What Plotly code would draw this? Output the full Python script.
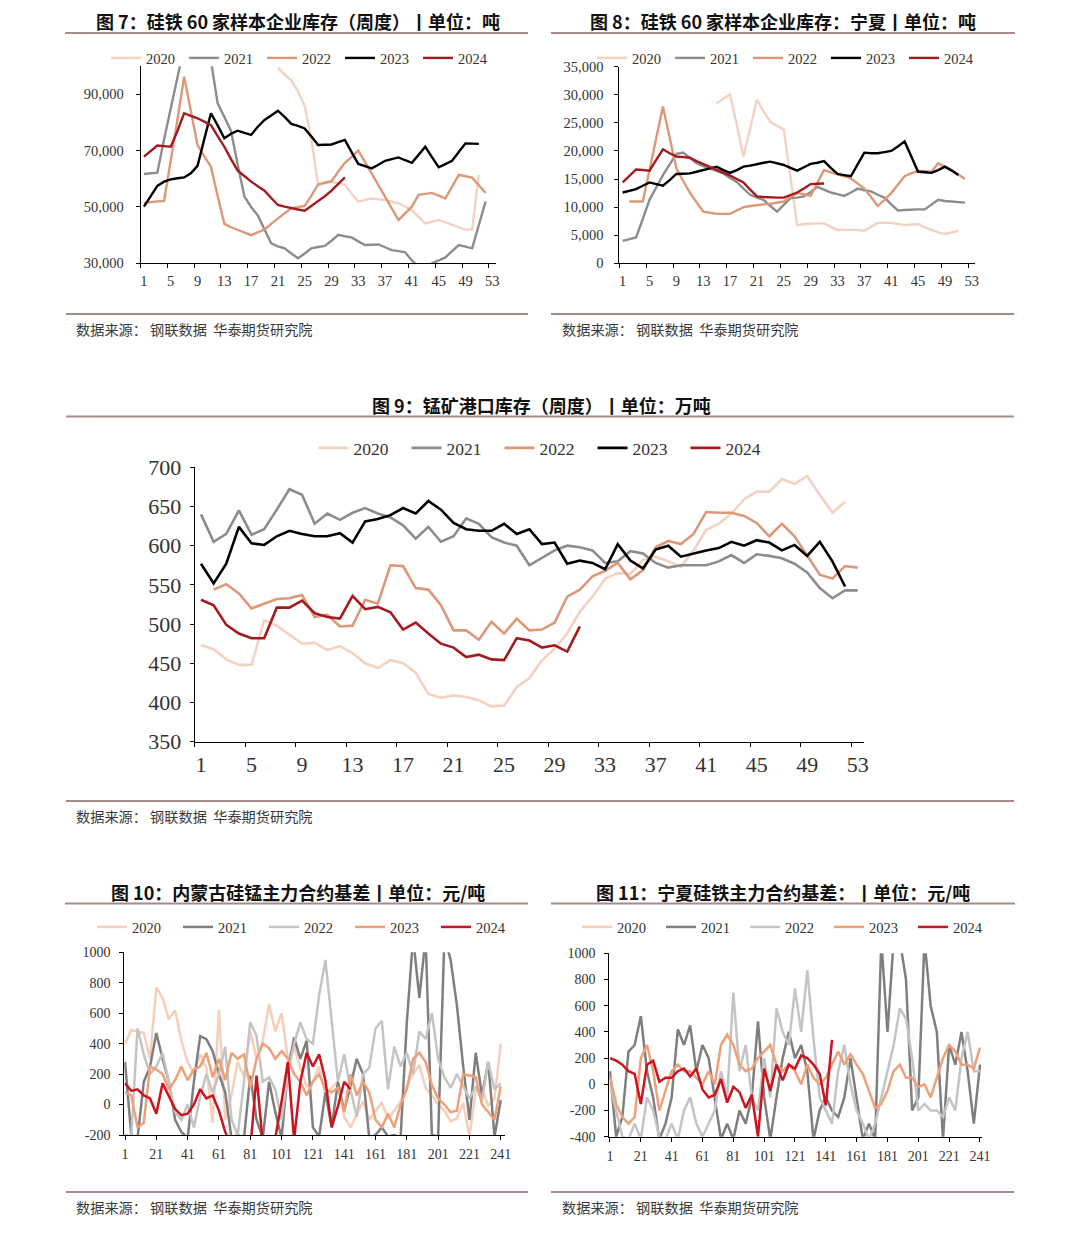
import plotly.graph_objects as go

W, H = 1080, 1233
PAGE_OFFSET = 8  # the page body margin shifts the figure by 8 px

# ---------------- categories ----------------
WEEKS = list(range(1, 54))
DAYS = list(range(1, 242, 4))
YEARS = ["2020", "2021", "2022", "2023", "2024"]

# ---------------- Fig 7: FeSi inventory, 60 sample plants (t) ----------------
P1_2020 = [None, None, None, None, None, None, None, None, None, None,
           None, None, None, None, None, None, None, None, None, None,
           99500, 97000, 95000, 91000, 85900, 74000, 57800, 58400, 59000, 58400,
           57800, 54800, 51900, 52500, 53000, 52700, 52500, 51900, 51300, 50100,
           48900, 46500, 44200, 44800, 45400, 44500, 43600, 42800, 42000, 42000,
           61400, None, None]
P1_2021 = [61700, 62000, 62200, 74000, 85000, 97000, 110000, 118000, 120000, 113000,
           102000, 86800, 82000, 77000, 65000, 53700, 50000, 47000, 42000, 37100,
           36000, 35300, 33500, 31800, 33500, 35300, 35800, 36200, 38000, 40100,
           39600, 39200, 37800, 36500, 36600, 36700, 35700, 34700, 34300, 33900,
           31000, 28800, 28500, 30000, 31000, 32100, 34300, 36500, 35900, 35300,
           43600, 51900, None]
P1_2022 = [51500, 51800, 52000, 52100, 66000, 81000, 96300, 84000, 72000, 68000,
           64300, 54000, 44000, 42800, 41800, 40800, 40000, 41000, 42000, 44000,
           46000, 47800, 49500, 50000, 50400, 54000, 58000, 58600, 59200, 62500,
           65700, 67800, 70000, 66000, 62000, 57800, 53700, 49500, 45400, 47800,
           50100, 54300, 54600, 55000, 54000, 53000, 57200, 61400, 60900, 60400,
           57700, 55000, None]
P1_2023 = [50100, 54000, 57500, 59000, 59800, 60200, 60500, 62000, 64600, 74000,
           83300, 79000, 74400, 76000, 77100, 76300, 75600, 78500, 80900, 82500,
           84200, 82000, 79500, 78800, 77900, 75000, 72000, 72100, 72200, 73000,
           73800, 69500, 65300, 64500, 63700, 65000, 66400, 67000, 67600, 66600,
           65700, 68500, 71400, 67700, 64100, 65200, 66400, 69500, 72600, 72500,
           72400, None, None]
P1_2024 = [67900, 69800, 71800, 71600, 71400, 77000, 83300, 82400, 81500, 80300,
           79100, 75200, 71400, 67000, 62900, 61000, 59000, 57400, 55800, 53200,
           50700, 50100, 49500, 49100, 48700, 50300, 51900, 53800, 55800, 58100,
           60500, None, None, None, None, None, None, None, None, None,
           None, None, None, None, None, None, None, None, None, None,
           None, None, None]

# ---------------- Fig 8: FeSi inventory, Ningxia (t) ----------------
P2_2020 = [None, None, None, None, None, None, None, None, None, None,
           None, None, None, None, 28500, 29300, 30100, 24700, 19000, 24000,
           29200, 27000, 25200, 24500, 23800, 15300, 6800, 7000, 7100, 7100,
           7100, 6500, 5900, 6000, 6000, 5900, 5800, 6500, 7200, 7200,
           7200, 7000, 6800, 6900, 7000, 6400, 5900, 5500, 5200, 5500,
           5800, None, None]
P2_2021 = [4000, 4300, 4600, 7900, 11300, 13500, 15700, 17600, 19500, 19700,
           18700, 17800, 17300, 16900, 16500, 16000, 15200, 14500, 13300, 12200,
           11700, 11300, 10200, 9200, 10400, 11600, 11700, 11900, 12700, 13600,
           13100, 12600, 12300, 12000, 12600, 13300, 13000, 12800, 12200, 11700,
           10500, 9400, 9500, 9600, 9600, 9600, 10400, 11300, 11100, 11000,
           10900, 10800, None]
P2_2022 = [None, 11000, 11000, 11000, 16600, 22200, 27900, 22400, 16900, 14700,
           12600, 10900, 9200, 9000, 8800, 8800, 8800, 9400, 10000, 10200,
           10400, 10500, 10600, 10800, 11000, 11800, 12500, 12300, 12000, 14300,
           16600, 16200, 15900, 15500, 15100, 14200, 13300, 11800, 10200, 11300,
           12500, 14000, 15500, 16000, 16500, 16400, 16300, 17800, 17200, 16600,
           15800, 15000, None]
P2_2023 = [12600, 12900, 13200, 13800, 14400, 14100, 13800, 14800, 15900, 15950,
           16000, 16300, 16600, 16900, 17200, 16600, 16100, 16600, 17200, 17400,
           17700, 17900, 18100, 17800, 17500, 17000, 16500, 17100, 17700, 17900,
           18200, 17000, 15900, 15700, 15500, 17600, 19700, 19600, 19600, 19800,
           20000, 20800, 21700, 19000, 16300, 16200, 16100, 16600, 17200, 16500,
           15700, None, None]
P2_2024 = [14400, 15500, 16700, 16600, 16500, 18400, 20300, 19600, 19000, 18900,
           18800, 18200, 17700, 17100, 16600, 16100, 15600, 15000, 14400, 13100,
           11900, 11800, 11700, 11700, 11700, 12100, 12600, 13300, 14100, 14150,
           14200, None, None, None, None, None, None, None, None, None,
           None, None, None, None, None, None, None, None, None, None,
           None, None, None]

# ---------------- Fig 9: Mn ore port inventory (10k t) ----------------
P3_2020 = [473, 468, 455, 448, 448, 505, 498, 487, 475, 476,
           467, 472, 463, 450, 444, 454, 450, 438, 411, 406,
           409, 407, 403, 395, 396, 420, 431, 454, 469, 488,
           516, 535, 558, 565, 564, 582, 586, 580, 573, 594,
           620, 628, 641, 659, 669, 669, 685, 679, 689, 665,
           642, 656, None]
P3_2021 = [640, 605, 615, 645, 614, 621, 646, 672, 665, 628,
           641, 633, 642, 648, 641, 636, 626, 609, 624, 605,
           612, 635, 628, 611, 604, 600, 575, 585, 594, 600,
           598, 594, 578, 580, 593, 590, 578, 572, 575, 575,
           575, 580, 588, 578, 589, 587, 584, 577, 566, 546,
           533, 543, 543]
P3_2022 = [None, 544, 551, 539, 520, 526, 532, 533, 537, 509,
           512, 497, 498, 531, 526, 575, 574, 546, 544, 524,
           492, 492, 480, 503, 488, 507, 492, 493, 502, 535,
           544, 561, 568, 578, 557, 569, 598, 606, 602, 615,
           643, 642, 642, 638, 629, 612, 628, 612, 587, 563,
           558, 574, 572]
P3_2023 = [577, 552, 577, 624, 603, 601, 612, 619, 615, 612,
           612, 616, 604, 631, 634, 639, 648, 641, 657, 646,
           629, 621, 619, 619, 628, 615, 621, 602, 604, 577,
           581, 578, 570, 602, 581, 571, 595, 600, 586, 590,
           594, 597, 605, 600, 607, 604, 594, 601, 587, 605,
           580, 548, None]
P3_2024 = [531, 524, 499, 488, 482, 482, 521, 521, 530, 514,
           509, 507, 536, 519, 522, 515, 493, 502, 488, 475,
           470, 458, 461, 455, 454, 482, 479, 470, 473, 465,
           497, None, None, None, None, None, None, None, None, None,
           None, None, None, None, None, None, None, None, None, None,
           None, None, None]

# ---------------- Fig 10: Inner Mongolia SiMn basis (yuan/t), every 4th trading day ----------------
BL_2020 = [400, 490, 480, 470, 300, 770, 700, 560, 620, 420,
           280, 200, 330, 240, -120, 620, -100, 60, 280, 180,
           480, 300, 420, 660, 480, 600, 300, 380, 240, 120,
           150, 250, 60, 110, 150, -80, -150, -60, 20, -100,
           -40, 10, -90, -40, 20, 120, 200, 260, 110, 60,
           0, -40, -110, -90, 10, -210, 90, 110, -10, 40,
           400]
BL_2021 = [280, -200, -220, 150, 250, 470, 300, 150, -100, -180,
           -220, 150, 450, 430, 350, 200, 80, -220, -200, -220,
           190, -100, -220, 150, -50, -220, 220, 440, 300, 420,
           -150, -210, 80, -150, 150, -40, 120, 300, 200, -220,
           -200, -150, -210, -200, -220, 540, 1100, 700, 1100, -200,
           -210, 1100, 950, 650, 250, -100, 340, 60, 280, -210,
           30]
BL_2022 = [-200, -210, 500, 330, 200, 250, 340, 150, -50, -100,
           0, -150, 50, 200, 80, 200, 380, -100, -200, 150,
           540, 450, 150, 180, 100, -100, 200, 400, 540, 430,
           400, 720, 950, 550, 150, 330, 100, -80, 200, 240,
           500, 550, 100, 380, 250, 340, 200, 480, 430, 600,
           300, 180, 110, 200, 120, 40, 120, 30, 280, 100,
           140]
BL_2023 = [80, 60, -150, -120, 250, 230, 200, 100, 160, 250,
           160, 230, 250, 340, 180, 300, 160, 340, 300, 330,
           110, 300, 400, 370, 300, 350, 300, 200, 150, 60,
           150, 200, 100, 80, 110, -50, 200, 60, 150, 80,
           -100, -150, -60, -150, 0, 100, 300, 340, 280, 130,
           40, 0, -50, -40, 200, 190, 180, 0, -50, -100,
           120]
BL_2024 = [140, 90, 100, 60, 40, -60, 140, 60, -30, -70,
           -60, 0, 100, 40, 60, -40, -180, -260, -300, -300,
           -300, 190, -250, -300, -220, 20, 280, -230, 150, 340,
           250, 330, 160, -150, -10, 150, 100, None, None, None,
           None, None, None, None, None, None, None, None, None, None,
           None, None, None, None, None, None, None, None, None, None,
           None]

# ---------------- Fig 11: Ningxia FeSi basis (yuan/t), every 4th trading day ----------------
BR_2020 = [None] * len(DAYS)
BR_2021 = [100, -400, -250, 250, 300, 520, 100, -100, -420, -300,
           -100, 420, 300, 450, 100, 300, 200, -100, -420, -300,
           -420, -200, -300, -100, 480, -100, -420, -100, 200, 400,
           200, 300, 100, -420, -200, -100, -200, -250, -100, 200,
           -100, -420, -300, -420, 1100, 400, 1100, 1100, 800, -200,
           -100, 1100, 600, 400, -420, 300, 150, 400, 100, -300,
           150]
BR_2022 = [0, -200, -400, -420, -300, -420, -100, -200, -400, -420,
           -300, -420, -200, -100, -300, -400, -300, -200, 100, -100,
           700, 100, 300, -100, -200, 200, -100, 580, 400, 300,
           730, 400, 870, 350, -100, -200, -300, 100, 300, 0,
           -200, -300, -420, -300, -100, 100, 300, 580, 500, 200,
           -200, -150, -200, -200, -250, -100, -200, 200, 400, 100,
           100]
BR_2023 = [60, -150, -250, -300, -250, 200, 300, 100, -200, -50,
           100, 150, 100, 100, 50, 0, 100, 0, 300, 380,
           300, 150, 100, 120, 200, 250, 300, 150, 100, 150,
           100, 0, 150, 50, 0, 50, 150, 250, 150, 230,
           150, 80, -50, -180, -150, -50, 100, 150, 50, 50,
           -20, 0, -100, 50, 200, 300, 250, 150, 150, 120,
           280]
BR_2024 = [200, 180, 150, 100, 80, -150, 150, 180, 20, 50,
           50, 100, 120, 60, 120, -40, -100, -80, 40, -140,
           -20, -60, -180, -80, -400, 120, -50, 150, 30, 150,
           120, 220, 200, 150, 80, -160, 340, None, None, None,
           None, None, None, None, None, None, None, None, None, None,
           None, None, None, None, None, None, None, None, None, None,
           None]

# ---------------- styling ----------------
COL_TOP = {"2020": "#f3d2c1", "2021": "#8d8d8d", "2022": "#dc9878", "2023": "#000000", "2024": "#a51a1e"}
COL_BOT = {"2020": "#f6cfbb", "2021": "#7f7f7f", "2022": "#c4c4c4", "2023": "#f0a078", "2024": "#cc1420"}
RULE = "#a68c88"
SERIF = "Liberation Serif"
CJK = "Noto Sans CJK SC"
TXT = "#333333"


def fx(px):
    return (px - PAGE_OFFSET) / W


def fy(py):
    return 1 - (py - PAGE_OFFSET) / H


fig = go.Figure()

panels = [
    dict(i=1, x=WEEKS, data=[P1_2020, P1_2021, P1_2022, P1_2023, P1_2024], col=COL_TOP,
         xd=(140.6, 495.6), yd=(66.2, 263.3), xr=[0.5, 53.5], yr=[30000, 100000],
         yt=[30000, 50000, 70000, 90000], ytt=["30,000", "50,000", "70,000", "90,000"],
         xt=list(range(1, 54, 4)), weekly=True, fs=14.5, lfs=14.5, ew=33, lw=2.4,
         ysd=9, xsd=4,
         title="图 7：硅铁 60 家样本企业库存（周度）丨单位：吨", tc=(297.5, 20.5), leg=(301, 58)),
    dict(i=2, x=WEEKS, data=[P2_2020, P2_2021, P2_2022, P2_2023, P2_2024], col=COL_TOP,
         xd=(619.3, 975.1), yd=(66.7, 263.3), xr=[0.5, 53.5], yr=[0, 35000],
         yt=list(range(0, 35001, 5000)),
         ytt=["0", "5,000", "10,000", "15,000", "20,000", "25,000", "30,000", "35,000"],
         xt=list(range(1, 54, 4)), weekly=True, fs=14.5, lfs=14.5, ew=33, lw=2.4,
         ysd=8, xsd=4,
         title="图 8：硅铁 60 家样本企业库存：宁夏丨单位：吨", tc=(783, 20.5), leg=(787, 58)),
    dict(i=3, x=WEEKS, data=[P3_2020, P3_2021, P3_2022, P3_2023, P3_2024], col=COL_TOP,
         xd=(194.7, 864.0), yd=(467.3, 741.7), xr=[0.5, 53.5], yr=[350, 700],
         yt=list(range(350, 701, 50)), ytt=[str(v) for v in range(350, 701, 50)],
         xt=list(range(1, 54, 4)), weekly=True, fs=22, lfs=17.5, ew=48, lw=2.6,
         ysd=4, xsd=3,
         title="图 9：锰矿港口库存（周度）丨单位：万吨", tc=(541, 405), leg=(546, 448)),
    dict(i=4, x=DAYS, data=[BL_2020, BL_2021, BL_2022, BL_2023, BL_2024], col=COL_BOT,
         xd=(124.3, 505.0), yd=(952.3, 1135.0), xr=[0.55, 243.7], yr=[-200, 1000],
         yt=list(range(-200, 1001, 200)), ytt=[str(v) for v in range(-200, 1001, 200)],
         xt=list(range(1, 242, 20)), weekly=False, fs=14, lfs=14.5, ew=41, lw=2.5,
         ysd=6, xsd=2,
         title="图 10：内蒙古硅锰主力合约基差丨单位：元/吨", tc=(297.5, 891.5), leg=(307, 927)),
    dict(i=5, x=DAYS, data=[BR_2020, BR_2021, BR_2022, BR_2023, BR_2024], col=COL_BOT,
         xd=(609.3, 982.3), yd=(953.3, 1136.7), xr=[0.55, 242.5], yr=[-400, 1000],
         yt=list(range(-400, 1001, 200)), ytt=[str(v) for v in range(-400, 1001, 200)],
         xt=list(range(1, 242, 20)), weekly=False, fs=14, lfs=14.5, ew=39, lw=2.5,
         ysd=6, xsd=2,
         title="图 11：宁夏硅铁主力合约基差：丨单位：元/吨", tc=(783, 891.5), leg=(787, 927)),
]

layout = dict(
    width=W, height=H, margin=dict(l=0, r=0, t=0, b=0, pad=0), autosize=False,
    paper_bgcolor="white", plot_bgcolor="white", showlegend=True,
    annotations=[], shapes=[],
)

for p in panels:
    i = p["i"]
    sx = "" if i == 1 else str(i)
    legname = "legend" if i == 1 else "legend%d" % i
    for yr, ys in zip(YEARS, p["data"]):
        fig.add_trace(go.Scatter(
            x=p["x"], y=ys, name=yr, mode="lines",
            line=dict(color=p["col"][yr], width=p["lw"]),
            xaxis="x" + sx, yaxis="y" + sx, legend=legname,
            connectgaps=False, hoverinfo="skip",
        ))
    xa = dict(
        domain=[fx(p["xd"][0]), fx(p["xd"][1])], range=p["xr"], anchor="y" + sx,
        automargin=False,
        showline=True, linecolor="black", linewidth=1, showgrid=False, zeroline=False,
        tickmode="array", tickvals=p["xt"], ticktext=[str(v) for v in p["xt"]],
        tickfont=dict(family=SERIF, size=p["fs"], color=TXT), fixedrange=True,
        ticklabelstandoff=p["xsd"],
    )
    if p["weekly"]:
        xa.update(ticks="", minor=dict(tickmode="linear", tick0=0.5, dtick=4, ticks="outside",
                                       ticklen=4, tickcolor="black", tickwidth=1, showgrid=False))
    else:
        xa.update(ticks="outside", ticklen=4, tickcolor="black")
    ya = dict(
        domain=[fy(p["yd"][1]), fy(p["yd"][0])], range=p["yr"], anchor="x" + sx,
        automargin=False,
        showline=True, linecolor="black", linewidth=1, showgrid=False, zeroline=False,
        tickmode="array", tickvals=p["yt"], ticktext=p["ytt"],
        ticks="outside", ticklen=4, tickcolor="black",
        tickfont=dict(family=SERIF, size=p["fs"], color=TXT), fixedrange=True,
        ticklabelstandoff=p["ysd"],
    )
    layout["xaxis" + sx] = xa
    layout["yaxis" + sx] = ya
    layout[legname] = dict(
        orientation="h", x=fx(p["leg"][0]), y=fy(p["leg"][1]), xanchor="center", yanchor="middle",
        bgcolor="rgba(0,0,0,0)", font=dict(family=SERIF, size=p["lfs"], color=TXT),
        itemwidth=30, traceorder="normal", entrywidth=p["ew"], entrywidthmode="pixels",
    )
    layout["annotations"].append(dict(
        text="<b>%s</b>" % p["title"], x=fx(p["tc"][0]), y=fy(p["tc"][1]), xref="paper", yref="paper",
        xanchor="center", yanchor="middle", showarrow=False,
        font=dict(family=CJK, size=18, color="#111111"),
    ))

# title rules
for (x0, x1, yy) in [(65, 528, 33), (551, 1015, 33), (66, 1014, 416.5), (65, 528, 903.5), (551, 1015, 903.5)]:
    layout["shapes"].append(dict(type="line", xref="paper", yref="paper", x0=fx(x0), x1=fx(x1),
                                 y0=fy(yy), y1=fy(yy), line=dict(color=RULE, width=2)))
# source rules and texts
SOURCE = "数据来源：\u00a0钢联数据\u00a0\u00a0华泰期货研究院"
for (x0, x1, yy, tx) in [(66, 528, 314, 74), (551, 1014, 314, 560), (66, 1014, 801, 74),
                         (66, 528, 1192, 74), (551, 1014, 1192, 560)]:
    layout["shapes"].append(dict(type="line", xref="paper", yref="paper", x0=fx(x0), x1=fx(x1),
                                 y0=fy(yy), y1=fy(yy), line=dict(color=RULE, width=2)))
    layout["annotations"].append(dict(
        text=SOURCE, x=fx(tx), y=fy(yy + 14.5), xref="paper", yref="paper",
        xanchor="left", yanchor="middle", showarrow=False,
        font=dict(family=CJK, size=14.2, color="#3a3a3a"),
    ))

fig.update_layout(**layout)
fig.write_html("out.html")
